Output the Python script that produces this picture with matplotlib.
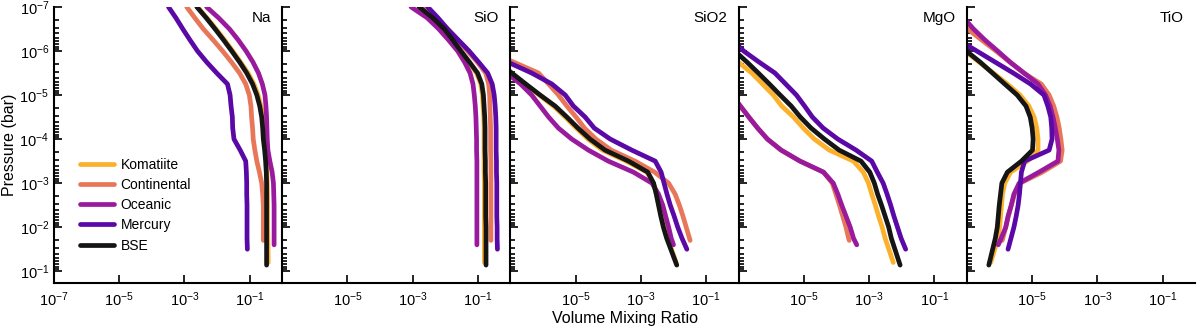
import numpy as np
import matplotlib.pyplot as plt
from matplotlib.ticker import LogLocator, NullFormatter

plt.rcParams['font.family'] = ['Liberation Sans', 'DejaVu Sans']
plt.rcParams['mathtext.fontset'] = 'custom'
plt.rcParams['mathtext.rm'] = 'Liberation Sans'
plt.rcParams['mathtext.it'] = 'Liberation Sans:italic'

nan = np.nan

compositions = ["Komatiite", "Continental", "Oceanic", "Mercury", "BSE"]
colors = ["#fcb12c", "#e8775a", "#9a1a9d", "#5a08a6", "#151515"]
species = ["Na", "SiO", "SiO2", "MgO", "TiO"]

# pressure levels (log10 bar); the last point of each curve differs per composition
log_p = [-7, -6.75, -6.5, -6.25, -6, -5.75, -5.5, -5.25, -5, -4.75, -4.5,
         -4.25, -4, -3.75, -3.5, -3.25, -3, -2.75, -2.5, -2.25, -2, -1.75]
log_p_bottom = {"Komatiite": -1.2, "Continental": -1.7, "Oceanic": -1.6,
                "Mercury": -1.5, "BSE": -1.14}

# log10 volume mixing ratio at each level (+ bottom point); nan = not reached yet
na = {
    "Komatiite":   [-2.60, -2.31, -2.03, -1.77, -1.52, -1.28, -1.05, -0.87, -0.74, -0.65, -0.58, -0.55, -0.53, -0.50, -0.48, -0.47, -0.46, -0.45, -0.45, -0.45, -0.45, -0.44, -0.43],
    "Continental": [-2.93, -2.68, -2.42, -2.12, -1.83, -1.56, -1.31, -1.12, -1.01, -0.96, -0.94, -0.91, -0.89, -0.84, -0.78, -0.70, -0.63, -0.60, -0.58, -0.58, -0.58, -0.58, -0.58],
    "Oceanic":     [-2.32, -1.95, -1.62, -1.35, -1.11, -0.90, -0.73, -0.61, -0.53, -0.50, -0.48, -0.47, -0.46, -0.44, -0.38, -0.31, -0.27, -0.26, -0.25, -0.25, -0.25, -0.25, -0.25],
    "Mercury":     [-3.49, -3.26, -3.05, -2.83, -2.60, -2.32, -2.01, -1.68, -1.60, -1.57, -1.53, -1.52, -1.48, -1.29, -1.12, -1.10, -1.09, -1.09, -1.08, -1.08, -1.08, -1.08, -1.07],
    "BSE":         [-2.62, -2.33, -2.06, -1.80, -1.55, -1.31, -1.09, -0.91, -0.78, -0.69, -0.63, -0.60, -0.58, -0.54, -0.51, -0.49, -0.48, -0.48, -0.48, -0.48, -0.48, -0.48, -0.48],
}
sio = {
    "Komatiite":   [-2.82, -2.40, -2.05, -1.79, -1.54, -1.29, -1.04, -0.91, -0.86, -0.84, -0.82, -0.81, -0.81, -0.81, -0.81, -0.81, -0.80, -0.80, -0.80, -0.80, -0.80, -0.80, -0.80],
    "Continental": [-2.70, -2.27, -1.93, -1.62, -1.32, -1.02, -0.76, -0.67, -0.64, -0.63, -0.62, -0.61, -0.61, -0.61, -0.60, -0.60, -0.60, -0.60, -0.60, -0.60, -0.60, -0.60, -0.60],
    "Oceanic":     [-3.05, -2.55, -2.20, -1.90, -1.62, -1.41, -1.24, -1.15, -1.11, -1.08, -1.06, -1.05, -1.04, -1.04, -1.03, -1.03, -1.03, -1.03, -1.03, -1.03, -1.03, -1.03, -1.03],
    "Mercury":     [-2.54, -2.22, -1.93, -1.60, -1.27, -0.98, -0.70, -0.56, -0.50, -0.47, -0.45, -0.44, -0.44, -0.44, -0.43, -0.43, -0.42, -0.42, -0.42, -0.42, -0.41, -0.41, -0.40],
    "BSE":         [-2.80, -2.38, -2.03, -1.77, -1.52, -1.26, -1.01, -0.88, -0.83, -0.81, -0.79, -0.78, -0.78, -0.78, -0.77, -0.77, -0.76, -0.76, -0.76, -0.76, -0.75, -0.75, -0.75],
}
sio2 = {
    "Komatiite":   [nan, nan, nan, nan, nan, -7.40, -6.98, -6.56, -6.12, -5.68, -5.32, -4.98, -4.62, -4.18, -3.45, -2.82, -2.62, -2.52, -2.44, -2.36, -2.28, -2.18, -1.92],
    "Continental": [nan, nan, nan, nan, -7.73, -6.91, -6.14, -5.83, -5.53, -5.27, -4.99, -4.73, -4.38, -3.91, -3.18, -2.58, -2.15, -1.95, -1.82, -1.71, -1.61, -1.51, -1.49],
    "Oceanic":     [nan, nan, nan, nan, nan, nan, -7.11, -6.69, -6.35, -6.09, -5.83, -5.53, -5.12, -4.61, -4.00, -3.23, -2.66, -2.46, -2.33, -2.24, -2.15, -2.07, -2.00],
    "Mercury":     [nan, nan, nan, nan, -7.83, -7.09, -6.35, -5.73, -5.32, -5.07, -4.71, -4.43, -3.94, -3.28, -2.56, -2.38, -2.29, -2.20, -2.10, -1.98, -1.87, -1.74, -1.59],
    "BSE":         [nan, nan, nan, nan, nan, -7.37, -6.96, -6.53, -6.09, -5.63, -5.27, -4.93, -4.56, -4.10, -3.38, -2.79, -2.61, -2.53, -2.46, -2.39, -2.31, -2.21, -1.90],
}
mgo = {
    "Komatiite":   [nan, nan, nan, nan, -7.37, -7.02, -6.60, -6.27, -5.94, -5.68, -5.32, -5.02, -4.68, -4.22, -3.48, -3.18, -3.02, -2.92, -2.81, -2.71, -2.60, -2.51, -2.26],
    "Continental": [nan, nan, nan, nan, nan, nan, nan, nan, -7.21, -6.95, -6.69, -6.42, -6.12, -5.70, -5.12, -4.40, -4.13, -4.02, -3.91, -3.81, -3.71, -3.63, -3.61],
    "Oceanic":     [nan, nan, nan, nan, nan, nan, nan, nan, -7.21, -6.95, -6.69, -6.42, -6.12, -5.70, -5.12, -4.40, -4.10, -3.96, -3.84, -3.71, -3.58, -3.48, -3.38],
    "Mercury":     [nan, nan, nan, -7.20, -6.85, -6.38, -5.89, -5.56, -5.23, -4.98, -4.74, -4.41, -3.96, -3.40, -2.92, -2.75, -2.57, -2.45, -2.34, -2.24, -2.13, -2.02, -1.88],
    "BSE":         [nan, nan, nan, nan, -7.12, -6.75, -6.40, -6.06, -5.73, -5.39, -5.11, -4.78, -4.37, -3.92, -3.25, -2.98, -2.84, -2.74, -2.62, -2.51, -2.40, -2.32, -2.05],
}
tio = {
    "Komatiite":   [nan, nan, nan, -7.45, -7.06, -6.63, -6.19, -5.76, -5.37, -5.10, -4.94, -4.86, -4.82, -4.82, -5.15, -5.66, -5.84, -5.91, -5.94, -5.97, -6.00, -6.05, -6.27],
    "Continental": [nan, -7.39, -6.98, -6.55, -6.11, -5.69, -5.26, -4.72, -4.48, -4.34, -4.24, -4.17, -4.12, -4.08, -4.13, -4.69, -5.37, -5.54, -5.64, -5.73, -5.81, -5.90, -5.92],
    "Oceanic":     [-7.60, -7.10, -6.80, -6.45, -6.06, -5.68, -5.25, -4.82, -4.59, -4.45, -4.36, -4.29, -4.23, -4.18, -4.21, -4.79, -5.40, -5.56, -5.64, -5.74, -5.81, -5.95, -6.04],
    "Mercury":     [nan, nan, nan, -7.26, -6.70, -6.14, -5.58, -5.05, -4.64, -4.52, -4.43, -4.40, -4.39, -4.48, -5.23, -5.33, -5.36, -5.39, -5.43, -5.49, -5.56, -5.65, -5.74],
    "BSE":         [nan, nan, nan, -7.44, -7.02, -6.60, -6.22, -5.84, -5.46, -5.19, -5.06, -5.00, -4.97, -4.99, -5.33, -5.76, -5.93, -5.97, -6.01, -6.04, -6.07, -6.13, -6.33],
}
panels = [na, sio, sio2, mgo, tio]

fig, axes = plt.subplots(1, 5, figsize=(12, 3.3), dpi=100, sharey=True)
fig.subplots_adjust(left=0.045, right=0.996, top=0.979, bottom=0.142, wspace=0)

for i, (ax, name, data) in enumerate(zip(axes, species, panels)):
    for comp, col in zip(compositions, colors):
        p = np.power(10.0, log_p + [log_p_bottom[comp]])
        v = np.power(10.0, np.array(data[comp]))
        ax.plot(v, p, color=col, lw=3.4, solid_capstyle='round',
                solid_joinstyle='round', label=comp)
    ax.set_xscale('log')
    ax.set_yscale('log')
    ax.set_xlim(1e-7, 1)
    ax.set_ylim(0.186, 1e-7)
    if i == 0:
        ax.set_xticks([1e-7, 1e-5, 1e-3, 1e-1])
    else:
        ax.set_xticks([1e-5, 1e-3, 1e-1])
    ax.xaxis.set_minor_locator(LogLocator(base=10, subs=[]))
    ax.xaxis.set_minor_formatter(NullFormatter())
    ax.yaxis.set_major_locator(LogLocator(base=10, numticks=20))
    ax.yaxis.set_minor_locator(LogLocator(base=10, subs=np.arange(2, 10), numticks=20))
    ax.yaxis.set_minor_formatter(NullFormatter())
    ax.tick_params(axis='both', which='both', direction='in', labelsize=10.5, width=1.2)
    ax.tick_params(axis='y', which='major', length=6)
    ax.tick_params(axis='y', which='minor', length=3.5)
    ax.tick_params(axis='x', which='major', length=6, pad=5)
    ax.spines['top'].set_visible(False)
    ax.spines['right'].set_visible(False)
    ax.spines['left'].set_linewidth(1.5)
    ax.spines['bottom'].set_linewidth(1.5)
    ax.text(0.95, 0.985, name, transform=ax.transAxes, ha='right', va='top', fontsize=11)

axes[0].set_ylabel('Pressure (bar)', fontsize=11.5, labelpad=2)
axes[2].set_xlabel('Volume Mixing Ratio', fontsize=11.5, labelpad=2)
axes[0].legend(loc='upper left', bbox_to_anchor=(0.06, 0.50), frameon=False,
               fontsize=10, handlelength=2.4, labelspacing=0.45, handletextpad=0.5)

fig.savefig('out.png', dpi=100)
